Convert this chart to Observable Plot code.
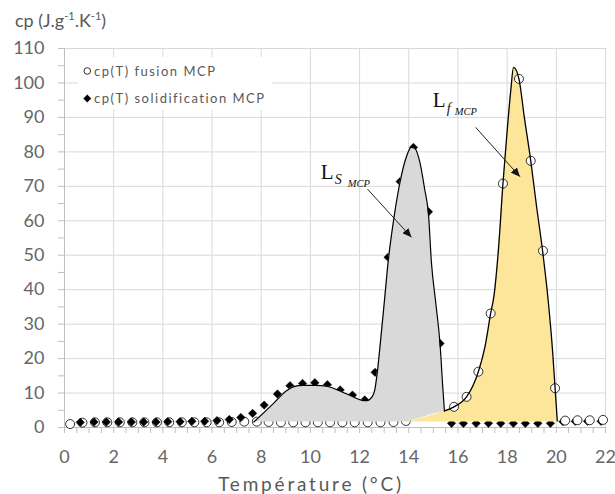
<!DOCTYPE html>
<html><head><meta charset="utf-8">
<script src="https://cdn.jsdelivr.net/npm/d3@7"></script>
<script src="https://cdn.jsdelivr.net/npm/@observablehq/plot@0.6"></script>
<style>
body{margin:0;background:#fff;}
#chart svg{font-family:Lato,"Open Sans",sans-serif;}
</style></head><body><div id="chart"></div>
<script>
// ---- tick labels ----
const xTicks = [0,2,4,6,8,10,12,14,16,18,20,22];
const yTicks = [0,10,20,30,40,50,60,70,80,90,100,110];
const xMinor = d3.range(0, 22.01, 0.5);
const yMinor = d3.range(0, 110.01, 5);

// ---- measured points: cp(T) fusion MCP (open circles) ----
const fusionT  = [0.23,0.73,1.24,1.74,2.25,2.76,3.25,3.76,4.26,4.77,5.28,5.78,6.29,6.8,7.31,7.82,8.3,8.8,9.3,9.8,10.3,10.8,11.3,11.8,12.33,12.85,13.38,13.88,15.84,16.35,16.83,17.33,17.83,18.48,18.96,19.46,19.95,20.36,20.86,21.36,21.9];
const fusionCp = [1.0,1.4,1.5,1.5,1.5,1.5,1.5,1.5,1.5,1.5,1.5,1.5,1.5,1.6,1.7,1.7,1.6,1.5,1.5,1.5,1.5,1.5,1.5,1.5,1.5,1.5,1.6,1.9,6.0,8.9,16.2,33.1,70.8,101.2,77.4,51.3,11.4,2.0,2.1,2.1,2.2];

// ---- measured points: cp(T) solidification MCP (black diamonds) ----
const solidT  = [0.64,1.2,1.7,2.2,2.72,3.22,3.72,4.2,4.7,5.18,5.7,6.2,6.7,7.17,7.65,8.12,8.66,9.17,9.68,10.18,10.69,11.21,11.71,12.21,12.63,13.16,13.65,14.19,14.8,15.27,15.74,16.22,16.74,17.24,17.74,18.25,18.74,19.25,19.76,20.27,20.77,21.27,21.82];
const solidCp = [1.5,1.6,1.6,1.6,1.6,1.6,1.6,1.7,1.7,1.8,1.8,2.0,2.3,2.9,4.1,6.5,9.7,12.1,12.8,13.0,12.4,10.9,9.4,8.0,16.0,49.4,71.4,81.3,62.6,24.4,1.2,1.2,1.2,1.2,1.2,1.2,1.2,1.2,1.2,1.7,1.8,1.8,1.8];

// ---- fitted curve: solidification (grey area, Ls MCP) ----
const solidFitT    = [7.7,8.0,8.5,9.0,9.3,9.7,10.2,10.7,11.2,11.7,12.1,12.3,12.5,12.62,12.72,12.85,13.0,13.16,13.4,13.65,13.9,14.1,14.25,14.45,14.65,14.8,14.92,15.1,15.27,15.38,15.45];
const solidFitCp   = [1.6,3.6,7.0,10.5,11.8,12.2,12.2,11.9,10.6,9.0,7.9,7.8,8.8,11,16,25,36,48,61,71.4,78.5,81.3,81.0,77,69,62,48,36,24.4,12,4.8];
const solidFitBase = [1.6,1.6,1.6,1.6,1.6,1.6,1.6,1.6,1.6,1.6,1.6,1.6,1.6,1.6,1.6,1.6,1.6,1.6,1.6,1.6,1.6,2.0,2.3,2.7,3.1,3.5,3.7,4.1,4.4,4.65,4.8];

// ---- fitted curve: fusion (yellow area, Lf MCP) ----
const fusFitT  = [13.9,15.45,15.84,16.35,16.6,16.83,17.1,17.33,17.47,17.65,17.83,18.0,18.15,18.26,18.48,18.7,18.96,19.2,19.44,19.67,19.85,19.95,20.04];
const fusFitCp = [1.6,4.8,6.0,8.9,12,16.2,23.5,33.1,38.5,52,70.8,86,98,104.5,101.2,90,77.4,64,51.3,36.8,22,11.4,1.9];

// ---- annotations (data units) ----
const annoMain = ["L","L"];
const annoSub  = ["S","f"];
const annoSub2 = ["MCP","MCP"];
const annoX    = [10.42,14.98];
const annoY    = [74.2,95.0];
const arrowX1  = [12.32,16.72];
const arrowY1  = [69.2,87.1];
const arrowX2  = [14.11,18.52];
const arrowY2  = [55.2,72.8];

const fusion = fusionT.map((t,i)=>({t, cp:fusionCp[i]}));
const solid  = solidT.map((t,i)=>({t, cp:solidCp[i]}));
const solidFit = solidFitT.map((t,i)=>({t, cp:solidFitCp[i], base:solidFitBase[i]}));
const fusFit = fusFitT.map((t,i)=>({t, cp:fusFitCp[i]}));
const arrows = arrowX1.map((d,i)=>({x1:d, y1:arrowY1[i], x2:arrowX2[i], y2:arrowY2[i]}));

const legendBg = () => {
  const r = d3.create("svg:rect").attr("x",78).attr("y",57).attr("width",194).attr("height",53).attr("fill","white");
  return r.node();
};

const serif = "Liberation Serif, DejaVu Serif, serif";
const annoMarks = [];
const subOffsets = [[14,8,27,12],[14,8,22,11]];
annoMain.forEach((m,i)=>{
  const d = [{x:annoX[i], y:annoY[i]}];
  const [sdx,sdy,mdx,mdy] = subOffsets[i];
  annoMarks.push(
    Plot.text(d,{x:"x",y:"y",text:()=>m,fontFamily:serif,fontSize:21,textAnchor:"start",fill:"#111"}),
    Plot.text(d,{x:"x",y:"y",text:()=>annoSub[i],dx:sdx,dy:sdy,fontFamily:serif,fontStyle:"italic",fontSize:14,textAnchor:"start",fill:"#111"}),
    Plot.text(d,{x:"x",y:"y",text:()=>annoSub2[i],dx:mdx,dy:mdy,fontFamily:serif,fontStyle:"italic",fontSize:10.5,textAnchor:"start",fill:"#111"})
  );
});

const svg = Plot.plot({
  width:615, height:494,
  marginLeft:64, marginRight:10, marginTop:48, marginBottom:67,
  x:{domain:[0,22]},
  y:{domain:[0,110]},
  style:{fontFamily:"Lato, 'Open Sans', sans-serif", background:"white", overflow:"visible"},
  marks:[
    Plot.gridX(xTicks.filter(d=>d>0),{stroke:"#d9d9d9",strokeOpacity:1}),
    Plot.gridY(yTicks.filter(d=>d>0),{stroke:"#d9d9d9",strokeOpacity:1}),
    legendBg,
    Plot.ruleY([0],{stroke:"#bfbfbf"}),
    Plot.ruleX([0],{stroke:"#bfbfbf"}),
    Plot.axisX(xMinor,{tickSize:6,fill:"none",stroke:"#bfbfbf",strokeOpacity:1,label:null}),
    Plot.axisY(yMinor,{tickSize:6,fill:"none",stroke:"#bfbfbf",strokeOpacity:1,label:null}),
    Plot.axisX(xTicks,{tickSize:0,tickPadding:23,fontSize:18,fill:"#666",label:null}),
    Plot.axisY(yTicks,{tickSize:0,tickPadding:20,fontSize:18,fill:"#666",label:null}),
    Plot.dot(fusion,{filter:d=>d.t<15,x:"t",y:"cp",r:4.5,fill:"white",stroke:"black",strokeWidth:0.8}),
    Plot.dot(solid,{x:"t",y:"cp",symbol:"diamond2",r:3.8,fill:"black",stroke:"black",strokeWidth:0.5}),
    Plot.areaY(fusFit,{x:"t",y1:1.6,y2:"cp",curve:"monotone-x",fill:"#fde59a"}),
    Plot.dot(fusion,{filter:d=>d.t>=15,x:"t",y:"cp",r:4.5,fill:"white",stroke:"black",strokeWidth:0.8}),
    Plot.areaY(solidFit,{x:"t",y1:"base",y2:"cp",curve:"monotone-x",fill:"#d9d9d9"}),
    Plot.line(solidFit,{x:"t",y:"cp",curve:"monotone-x",stroke:"black",strokeWidth:1.2}),
    Plot.line(fusFit.slice(1),{x:"t",y:"cp",curve:"monotone-x",stroke:"black",strokeWidth:1.3}),
    Plot.link(arrows,{x1:"x1",y1:"y1",x2:"x2",y2:"y2",stroke:"#222",strokeWidth:1}),
    ...annoMarks
  ]
});

const s = d3.select(svg);
// arrowheads
s.append("defs").append("marker")
  .attr("id","ahead").attr("markerUnits","userSpaceOnUse")
  .attr("markerWidth",10).attr("markerHeight",8)
  .attr("refX",9).attr("refY",4).attr("orient","auto")
  .append("path").attr("d","M0,0L9,4L0,8z").attr("fill","#111");
s.selectAll('g[aria-label="link"] path').attr("marker-end","url(#ahead)");

// legend
const lg = s.append("g").attr("font-size",13).attr("fill","#595959").attr("text-anchor","start").style("letter-spacing","1.5px");
lg.append("path").attr("transform","translate(87.3,71)").attr("d",d3.symbol(d3.symbolCircle, Math.PI*3.3*3.3)()).attr("fill","white").attr("stroke","black").attr("stroke-width",0.8);
lg.append("text").attr("x",94).attr("y",71).attr("dy","0.35em").text("cp(T) fusion MCP");
lg.append("path").attr("transform","translate(87.3,98.5)").attr("d",d3.symbol(d3.symbolDiamond2, 40)()).attr("fill","black");
lg.append("text").attr("x",94).attr("y",98.5).attr("dy","0.35em").text("cp(T) solidification MCP");

// y title
const yt = s.append("text").attr("x",15).attr("y",27).attr("text-anchor","start").attr("font-size",18).attr("fill","#595959");
yt.append("tspan").text("cp (J.g");
yt.append("tspan").attr("dy",-7).attr("font-size",11).text("-1");
yt.append("tspan").attr("dy",7).text(".K");
yt.append("tspan").attr("dy",-7).attr("font-size",11).text("-1");
yt.append("tspan").attr("dy",7).text(")");

// x title
s.append("text").attr("x",311).attr("y",491).attr("text-anchor","middle").attr("font-size",19).attr("fill","#595959").style("letter-spacing","2.8px").text("Température (°C)");

document.getElementById("chart").appendChild(svg);
</script>
</body></html>
